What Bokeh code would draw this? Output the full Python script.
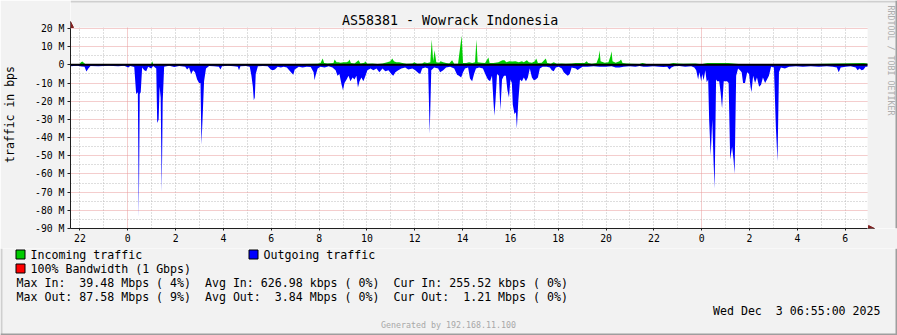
from bokeh.plotting import figure
from bokeh.layouts import column
from bokeh.models import (Range1d, FixedTicker, Grid, Span, Label, BoxAnnotation,
                          Arrow, NormalHead)
from bokeh.core.properties import value
from bokeh.embed import file_html
from bokeh.resources import INLINE

MONO = "DejaVu Sans Mono"

# ---------------- data ----------------
title_text = "AS58381 - Wowrack Indonesia"
y_axis_title = "traffic in bps"
watermark = "RRDTOOL / TOBI OETIKER"
generated = "Generated by 192.168.11.100"
date_text = "Wed Dec  3 06:55:00 2025"
legend_in = "Incoming traffic"
legend_out = "Outgoing traffic"
legend_bw = "100% Bandwidth (1 Gbps)"
stats_in = "Max In:  39.48 Mbps ( 4%)  Avg In: 626.98 kbps ( 0%)  Cur In: 255.52 kbps ( 0%)"
stats_out = "Max Out: 87.58 Mbps ( 9%)  Avg Out:  3.84 Mbps ( 0%)  Cur Out:  1.21 Mbps ( 0%)"

# time axis: hours relative to Tue Dec 2 00:00
x_start, x_end = -2.396, 30.937
x_ticks = [-2, 0, 2, 4, 6, 8, 10, 12, 14, 16, 18, 20, 22, 24, 26, 28, 30]
x_tick_labels = ["22", "0", "2", "4", "6", "8", "10", "12", "14", "16", "18", "20", "22",
                 "0", "2", "4", "6"]
x_day_lines = [0, 24]
x_hour_lines = [h for h in range(-2, 31) if h not in (0, 24)]

# value axis in Mbit/s
y_min, y_max = -90, 20
y_ticks = [20, 10, 0, -10, -20, -30, -40, -50, -60, -70, -80, -90]
y_tick_labels = ["20 M", "10 M", "0", "-10 M", "-20 M", "-30 M", "-40 M", "-50 M",
                 "-60 M", "-70 M", "-80 M", "-90 M"]
y_minor_lines = [15, 5, -5, -15, -25, -35, -45, -55, -65, -75, -85]

# incoming traffic (Mbit/s)
in_hours = [-2.40, -2.02, -1.96, -1.90, -1.83, -1.77, 0.85, 0.98, 1.02, 1.06, 1.15, 3.15, 5.65,
            7.31, 7.94, 8.06, 8.15, 8.21, 8.35, 8.60, 8.65, 8.73, 8.81, 8.90, 9.02, 9.15, 9.23,
            9.27, 9.33, 9.48, 9.65, 9.73, 9.90, 9.92, 10.02, 10.23, 10.44, 10.65, 10.85, 10.98,
            11.06, 11.13, 11.23, 11.35, 11.48, 11.65, 11.90, 11.98, 12.10, 12.31, 12.40, 12.52,
            12.65, 12.71, 12.77, 12.83, 12.90, 13.02, 13.08, 13.19, 13.31, 13.44, 13.56, 13.65,
            13.81, 13.96, 14.02, 14.15, 14.27, 14.40, 14.52, 14.58, 14.63, 14.79, 14.94, 15.08,
            15.13, 15.29, 15.50, 15.58, 15.67, 15.75, 15.83, 15.96, 16.08, 16.21, 16.35, 16.48,
            16.56, 16.69, 16.77, 16.90, 17.02, 17.08, 17.15, 17.31, 17.48, 17.54, 17.69, 17.81,
            17.94, 18.15, 18.31, 18.56, 18.73, 19.10, 19.19, 19.25, 19.40, 19.60, 19.69, 19.73,
            19.77, 19.94, 20.10, 20.19, 20.23, 20.27, 20.40, 20.56, 20.625, 20.69, 20.85, 21.06,
            21.40, 21.52, 21.69, 21.90, 22.31, 22.60, 22.81, 22.98, 23.23, 23.73, 23.98, 24.23,
            25.10, 25.65, 28.15, 30.77, 30.94]
in_mbps = [0.3, 0.4, 1.5, 1.8, 1.0, 0.3, 0.3, 0.5, 2.0, 0.5, 0.3, 0.3, 0.3,
           0.5, 0.6, 1.0, 3.5, 1.0, 0.8, 1.0, 3.0, 1.5, 1.5, 1.2, 1.5, 1.5, 2.0,
           3.0, 1.0, 0.8, 2.5, 0.8, 1.2, 2.0, 0.6, 0.8, 0.5, 0.8, 1.5, 2.0,
           3.5, 2.0, 1.5, 1.5, 1.0, 0.6, 0.8, 1.5, 0.6, 0.8, 1.5, 1.0,
           1.5, 14.0, 2.0, 8.0, 1.5, 1.2, 2.0, 1.5, 1.0, 0.8, 2.5, 0.6,
           0.6, 16.0, 1.0, 1.0, 1.5, 1.0, 1.5, 14.0, 1.5, 1.2, 1.0, 4.0,
           1.0, 1.0, 1.5, 2.0, 2.5, 2.5, 1.5, 2.0, 1.8, 2.0, 1.5, 2.0,
           1.5, 2.5, 1.5, 1.2, 2.0, 3.5, 1.0, 1.2, 3.5, 1.0, 0.6, 1.5,
           0.6, 0.8, 0.6, 0.8, 1.0, 1.0, 2.0, 1.0, 0.6, 1.0, 4.0, 8.0,
           2.0, 1.2, 1.5, 5.0, 7.5, 2.0, 1.2, 2.0, 3.0, 1.0, 0.8, 0.6,
           0.5, 1.0, 0.5, 0.4, 0.5, 0.4, 1.0, 0.8, 0.6, 0.8, 0.3, 1.0,
           1.0, 0.3, 0.3, 1.0, 0.8]

# outgoing traffic (Mbit/s, drawn below zero)
out_hours = [-2.40, -2.10, -1.94, -1.81, -1.73, -1.65, -1.56, -1.23, -0.81, -0.40, -0.15, 0.02,
             0.10, 0.27, 0.35, 0.42, 0.46, 0.50, 0.54, 0.60, 0.69, 0.77, 0.85, 0.98, 1.06, 1.19,
             1.23, 1.29, 1.33, 1.375, 1.42, 1.46, 1.52, 1.73, 1.94, 2.15, 2.40, 2.48, 2.56, 2.65,
             2.73, 2.81, 2.90, 2.98, 3.04, 3.08, 3.125, 3.19, 3.27, 3.40, 3.60, 3.81, 3.875, 3.94,
             4.19, 4.44, 4.60, 4.65, 4.71, 4.94, 5.10, 5.17, 5.23, 5.27, 5.31, 5.35, 5.44, 5.65,
             5.85, 5.98, 6.06, 6.15, 6.27, 6.40, 6.52, 6.65, 6.85, 6.92, 6.98, 7.15, 7.31, 7.48,
             7.65, 7.77, 7.81, 7.85, 7.94, 8.06, 8.23, 8.40, 8.56, 8.69, 8.77, 8.85, 8.94, 9.00,
             9.06, 9.15, 9.23, 9.31, 9.40, 9.48, 9.56, 9.625, 9.69, 9.77, 9.85, 9.94, 10.02,
             10.15, 10.27, 10.40, 10.52, 10.65, 10.77, 10.90, 11.02, 11.10, 11.19, 11.31, 11.44,
             11.60, 11.73, 11.90, 12.02, 12.15, 12.23, 12.31, 12.44, 12.56, 12.625, 12.69, 12.81,
             12.98, 13.06, 13.19, 13.31, 13.48, 13.65, 13.77, 13.85, 13.94, 14.02, 14.10, 14.23,
             14.31, 14.40, 14.48, 14.56, 14.69, 14.85, 14.98, 15.06, 15.15, 15.23, 15.29, 15.33,
             15.375, 15.44, 15.52, 15.58, 15.65, 15.73, 15.81, 15.875, 15.94, 16.00, 16.06, 16.10,
             16.17, 16.23, 16.27, 16.33, 16.40, 16.48, 16.56, 16.65, 16.73, 16.81, 16.90, 16.98,
             17.06, 17.15, 17.23, 17.35, 17.52, 17.65, 17.73, 17.81, 17.90, 18.02, 18.15, 18.23,
             18.31, 18.40, 18.48, 18.56, 18.73, 18.81, 18.90, 19.02, 19.23, 19.48, 19.73, 19.98,
             20.23, 20.40, 20.56, 20.73, 20.98, 21.23, 21.40, 21.56, 21.73, 21.98, 22.23, 22.40,
             22.56, 22.65, 22.73, 22.85, 23.06, 23.31, 23.56, 23.69, 23.77, 23.85, 23.90, 23.98,
             24.02, 24.08, 24.15, 24.21, 24.27, 24.31, 24.375, 24.44, 24.50, 24.54, 24.60, 24.65,
             24.73, 24.79, 24.85, 24.92, 24.98, 25.06, 25.125, 25.19, 25.27, 25.33, 25.375, 25.44,
             25.52, 25.60, 25.67, 25.73, 25.81, 25.90, 25.98, 26.04, 26.08, 26.15, 26.23, 26.31,
             26.40, 26.48, 26.56, 26.65, 26.73, 26.81, 26.90, 27.02, 27.10, 27.17, 27.23, 27.31,
             27.48, 27.65, 27.94, 28.23, 28.56, 28.90, 29.23, 29.48, 29.65, 29.73, 29.81, 30.02,
             30.23, 30.44, 30.52, 30.60, 30.69, 30.77, 30.85, 30.94]
out_mbps = [0.8, 0.5, 0.9, 1.0, 3.6, 2.0, 0.6, 0.8, 0.5, 0.8, 0.5, 1.5,
            0.6, 1.2, 16, 15, 84, 16, 15, 1.5, 3.0, 3.5, 1.0, 2.0, 0.6, 2.0,
            32, 30, 12, 18, 70, 20, 1.0, 0.5, 1.2, 0.6, 1.0, 2.5, 1.5, 5.0,
            3.0, 4.0, 8, 10, 10, 44, 30, 9, 2, 0.6, 0.8, 1.0, 2.5, 0.8,
            0.5, 0.8, 1.0, 3.0, 0.8, 0.6, 1.0, 6, 12, 19.5, 18, 5, 0.8, 0.6,
            0.8, 2.5, 3.0, 2.5, 1.0, 1.5, 1.0, 1.5, 4.5, 5.5, 2.5, 1.0, 1.5, 1.0,
            1.2, 4.0, 8.5, 6.0, 2.0, 1.0, 1.5, 0.8, 1.5, 3.0, 6.0, 5.0, 11, 14,
            10, 8, 6, 9, 7, 8, 6, 12.5, 9, 7, 9, 6, 3,
            2, 3, 2, 4, 2, 3.5, 3, 5, 6, 4, 3, 2,
            1.5, 2.5, 2, 3, 4.5, 5, 2, 1.5, 2, 38, 3, 1.5,
            2, 4, 3, 1.5, 1.0, 2, 5.5, 6, 7, 4, 2, 1.5,
            7.5, 9, 5, 2, 1.5, 2, 6, 8, 9, 6, 20, 28,
            20, 5, 6, 25, 8, 6, 6, 14, 18, 8, 10, 22,
            27, 26, 35, 20, 8, 9, 7, 9, 7, 2, 7, 8.5,
            8, 7, 2, 1, 1, 1.5, 3, 3.5, 1.5, 1, 2, 4,
            5, 6, 5, 1.5, 2, 2.8, 2, 1, 1, 0.8, 1, 1,
            0.8, 1.5, 1.5, 1, 0.8, 1, 0.6, 1, 1, 0.8, 1, 1.2,
            1, 2.5, 1.5, 0.8, 0.6, 1, 0.8, 1.5, 3, 8, 4, 9,
            5, 8.5, 3, 9.5, 8, 30, 50, 30, 55, 68, 8, 9,
            9, 15, 24, 9, 9, 9, 10, 52, 45, 52, 60, 6,
            2, 3, 4, 10, 10, 4, 5, 12, 15, 6, 10, 7,
            12, 11, 7, 10, 8, 6, 1, 1.5, 34, 53, 4, 1.5,
            2, 1, 0.8, 1, 0.8, 1, 0.8, 1, 1.5, 4, 1.5, 1,
            0.8, 1.5, 3, 2, 3, 2.5, 1, 1]
out_neg = [-v for v in out_mbps]


def keep_spaces(s):
    # SVG collapses runs of blanks; keep the monospace columns of rrdtool
    return s.replace("  ", " \u00a0")


# ---------------- geometry (pixels) ----------------
PLOT_L, PLOT_B = 67, 228          # canvas position of graph origin
PLOT_W, PLOT_H = 800, 200         # graph area
CHART_H = 248                     # height of the chart figure
px_h = (x_end - x_start) / PLOT_W  # hours per pixel
px_v = (y_max - y_min) / PLOT_H    # Mbit/s per pixel
x_frame_end = x_start + (897 - PLOT_L) * px_h
y_frame_top = y_min + PLOT_B * px_v


def cx(X):
    return x_start + (X - PLOT_L) * px_h


def cy(Y):
    return y_min + (PLOT_B - Y) * px_v


BACK = "#F2F2F2"
p = figure(width=897, height=CHART_H, output_backend="svg", toolbar_location=None,
           x_range=Range1d(x_start, x_frame_end), y_range=Range1d(y_min, y_frame_top),
           min_border_left=PLOT_L, min_border_right=0, min_border_top=0,
           min_border_bottom=CHART_H - PLOT_B, background_fill_color="#FFFFFF",
           border_fill_color=BACK, outline_line_color=None)
p.frame_align = False
p.grid.visible = False

GRID_C = "#BDBDBD"
MGRID_C = "#E99A9A"
for dim, ticks, col, dash in ((0, x_hour_lines, GRID_C, "1 2"), (1, y_minor_lines, GRID_C, "1 2"),
                              (0, x_day_lines, MGRID_C, "1 1"), (1, y_ticks, MGRID_C, "1 1")):
    p.add_layout(Grid(dimension=dim, ticker=FixedTicker(ticks=ticks),
                      grid_line_color=col, grid_line_dash=dash))

p.varea(x=in_hours, y1=0, y2=in_mbps, fill_color="#00CC00")
p.varea(x=out_hours, y1=0, y2=out_neg, fill_color="#0000FF")
p.add_layout(Span(location=0, dimension="width", line_color="#000000", line_width=2))

# background outside the graph area (top strip and right strip)
p.add_layout(BoxAnnotation(bottom=y_max + px_v, fill_color=BACK, fill_alpha=1.0,
                           line_alpha=0.0))
p.add_layout(BoxAnnotation(left=x_end, fill_color=BACK, fill_alpha=1.0, line_alpha=0.0))
# bevel edges
p.add_layout(BoxAnnotation(bottom=cy(2), fill_color="#CFCFCF", fill_alpha=1.0,
                           line_alpha=0.0))
p.add_layout(BoxAnnotation(left=cx(895), fill_color="#9E9E9E", fill_alpha=1.0,
                           line_alpha=0.0))

for ax in (p.xaxis[0], p.yaxis[0]):
    ax.axis_line_color = "#1F1F1F"
    ax.major_tick_line_color = "#1F1F1F"
    ax.major_tick_in = 0
    ax.minor_tick_in = 0
    ax.minor_tick_out = 0
    ax.major_label_text_font = MONO
    ax.major_label_text_font_size = "9.8px"
    ax.major_label_text_color = "#000000"
p.xaxis.ticker = FixedTicker(ticks=x_ticks)
p.xaxis.major_label_overrides = dict(zip(x_ticks, x_tick_labels))
p.xaxis.major_tick_out = 2
p.xaxis.major_label_standoff = 3
p.xaxis.bounds = (x_start, x_end)
p.yaxis.ticker = FixedTicker(ticks=y_ticks)
p.yaxis.major_label_overrides = dict(zip(y_ticks, y_tick_labels))
p.yaxis.major_tick_out = 3
p.yaxis.major_label_standoff = 3
p.yaxis.bounds = (y_min, y_max)
p.yaxis.axis_label = y_axis_title
p.yaxis.axis_label_text_font = MONO
p.yaxis.axis_label_text_font_size = "11.5px"
p.yaxis.axis_label_text_font_style = "normal"
p.yaxis.axis_label_text_color = "#000000"
p.yaxis.axis_label_standoff = 15

p.add_layout(Label(x=cx(448), y=cy(19.5), text=title_text, text_font=MONO,
                   text_font_size="13.3px", text_align="center", text_baseline="middle",
                   text_color="#000000"))
p.add_layout(Label(x=cx(890), y=cy(60), text=watermark, text_font=MONO,
                   text_font_size="8.3px", text_align="center", text_baseline="middle",
                   text_color="#ADADAD", angle=-1.5708))

# axis arrows
p.add_layout(Arrow(x_start=x_start, y_start=y_max, x_end=x_start, y_end=cy(21),
                   line_color="#1F1F1F", line_width=1,
                   end=NormalHead(size=6, fill_color="#801F1F", line_color="#801F1F")))
p.add_layout(Arrow(x_start=x_end, y_start=y_min, x_end=cx(874), y_end=y_min,
                   line_color="#1F1F1F", line_width=1,
                   end=NormalHead(size=6, fill_color="#801F1F", line_color="#801F1F")))

# ---------------- legend / statistics panel ----------------
q = figure(width=897, height=335 - CHART_H, output_backend="svg", toolbar_location=None,
           x_range=Range1d(0, 897), y_range=Range1d(335, CHART_H),
           min_border=0, x_axis_type=None, y_axis_type=None,
           background_fill_color=BACK, border_fill_color=BACK, outline_line_color=None)
q.frame_align = False
q.grid.visible = False

legend_colors = ["#00CC00", "#0000FF", "#FF0000"]
q.quad(left=[15.5, 248.5, 15.5], right=[24.5, 257.5, 24.5],
       top=[249.5, 249.5, 263.5], bottom=[258.5, 258.5, 272.5],
       fill_color=legend_colors, line_color="#000000", line_width=1)

q.text(x=[30, 263, 30, 16, 16], y=[254, 254, 268, 282, 296],
       text=[keep_spaces(t) for t in (legend_in, legend_out, legend_bw, stats_in, stats_out)],
       text_font=value(MONO), text_font_size=value("11.6px"), text_color="#000000",
       text_align="left", text_baseline="middle")
q.text(x=[880], y=[310], text=[keep_spaces(date_text)], text_font=value(MONO),
       text_font_size=value("11.6px"), text_color="#000000", text_align="right",
       text_baseline="middle")
q.text(x=[448], y=[324], text=[generated], text_font=value(MONO),
       text_font_size=value("8.3px"), text_color="#A8A8A8", text_align="center",
       text_baseline="middle")

# bevel edges of the whole image
q.quad(left=[0, 895, 0], right=[2, 897, 897], top=[CHART_H, CHART_H, 333],
       bottom=[335, 335, 335], fill_color=["#CFCFCF", "#9E9E9E", "#9E9E9E"],
       line_color=None)

layout = column(p, q, spacing=0)
open("out.html", "w").write(file_html(layout, INLINE))
